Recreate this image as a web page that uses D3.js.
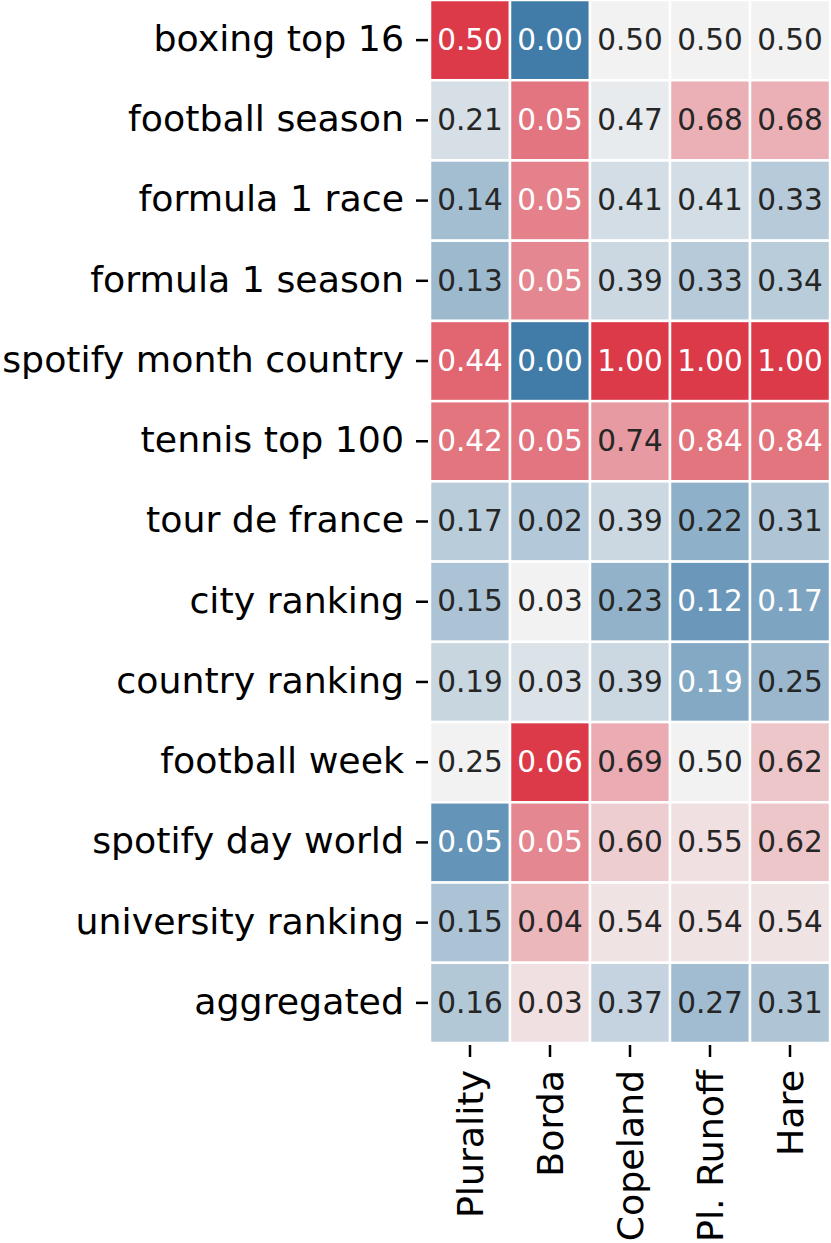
<!DOCTYPE html>
<html>
<head>
  <meta charset="utf-8">
  <title>heatmap</title>
  <style>
    body { margin: 0; background: #fff; }
    text { font-family: "DejaVu Sans", sans-serif; }
    .axis text { font-size: 36.3px; fill: #000; }
    .axis line { stroke: #000; stroke-width: 2.5px; }
    .axis path { display: none; }
    .cell text { font-size: 29.5px; }
  </style>
  <script src="https://cdn.jsdelivr.net/npm/d3@7"></script>
</head>
<body>
  <script>
    var rows = ["boxing top 16", "football season", "formula 1 race", "formula 1 season",
      "spotify month country", "tennis top 100", "tour de france", "city ranking",
      "country ranking", "football week", "spotify day world", "university ranking", "aggregated"];
    var columns = ["Plurality", "Borda", "Copeland", "Pl. Runoff", "Hare"];

    // one array per column, same order as rows
    var plurality = [0.50, 0.21, 0.14, 0.13, 0.44, 0.42, 0.17, 0.15, 0.19, 0.25, 0.05, 0.15, 0.16];
    var borda     = [0.000, 0.052, 0.050, 0.049, 0.000, 0.052, 0.020, 0.031, 0.027, 0.062, 0.049, 0.041, 0.034];
    var copeland  = [0.50, 0.47, 0.41, 0.39, 1.00, 0.74, 0.39, 0.23, 0.39, 0.69, 0.60, 0.54, 0.37];
    var runoff    = [0.50, 0.68, 0.41, 0.33, 1.00, 0.84, 0.22, 0.12, 0.19, 0.50, 0.55, 0.54, 0.27];
    var hare      = [0.50, 0.68, 0.33, 0.34, 1.00, 0.84, 0.31, 0.17, 0.25, 0.62, 0.62, 0.54, 0.31];
    var series = [plurality, borda, copeland, runoff, hare];

    var width = 831, height = 1243;
    var svg = d3.select("body").append("svg")
      .attr("width", width)
      .attr("height", height);

    var x = d3.scaleBand().domain(columns).range([430, 830]);
    var y = d3.scaleBand().domain(rows).range([0, 1043]);

    // each column gets its own colour range: 0 .. column max
    var colors = series.map(function(s) {
      var mx = d3.max(s);
      return d3.scaleLinear()
        .domain([0, mx / 2, mx])
        .range(["#417ca8", "#f2f2f2", "#dc3a49"])
        .clamp(true);
    });

    function lum(c) {
      var rgb = d3.rgb(c);
      var f = function(v) { v = v / 255; return v <= 0.03928 ? v / 12.92 : Math.pow((v + 0.055) / 1.055, 2.4); };
      return 0.2126 * f(rgb.r) + 0.7152 * f(rgb.g) + 0.0722 * f(rgb.b);
    }

    var cells = [];
    series.forEach(function(s, ci) {
      s.forEach(function(v, ri) {
        cells.push({ row: rows[ri], col: columns[ci], value: v, fill: colors[ci](v) });
      });
    });

    var cell = svg.selectAll(".cell")
      .data(cells)
      .enter().append("g")
      .attr("class", "cell");

    cell.append("rect")
      .attr("x", d => x(d.col))
      .attr("y", d => y(d.row))
      .attr("width", x.bandwidth())
      .attr("height", y.bandwidth())
      .attr("fill", d => d.fill)
      .attr("stroke", "#fff")
      .attr("stroke-width", 2.5);

    cell.append("text")
      .attr("x", d => x(d.col) + x.bandwidth() / 2)
      .attr("y", d => y(d.row) + y.bandwidth() / 2)
      .attr("dy", "0.33em")
      .attr("text-anchor", "middle")
      .attr("fill", d => lum(d.fill) > 0.408 ? "#262626" : "#ffffff")
      .text(d => d3.format(".2f")(d.value));

    // y axis
    svg.append("g")
      .attr("class", "axis")
      .attr("transform", "translate(428,0)")
      .call(d3.axisLeft(y).tickSize(12).tickPadding(12))
      .selectAll("text")
      .attr("dy", "0.3em");

    // x axis, rotated labels
    svg.append("g")
      .attr("class", "axis")
      .attr("transform", "translate(0,1045)")
      .call(d3.axisBottom(x).tickSize(12))
      .selectAll("text")
      .attr("transform", "rotate(-90)")
      .attr("x", -25)
      .attr("y", 0)
      .attr("dy", "0.36em")
      .style("text-anchor", "end");
  </script>
</body>
</html>
